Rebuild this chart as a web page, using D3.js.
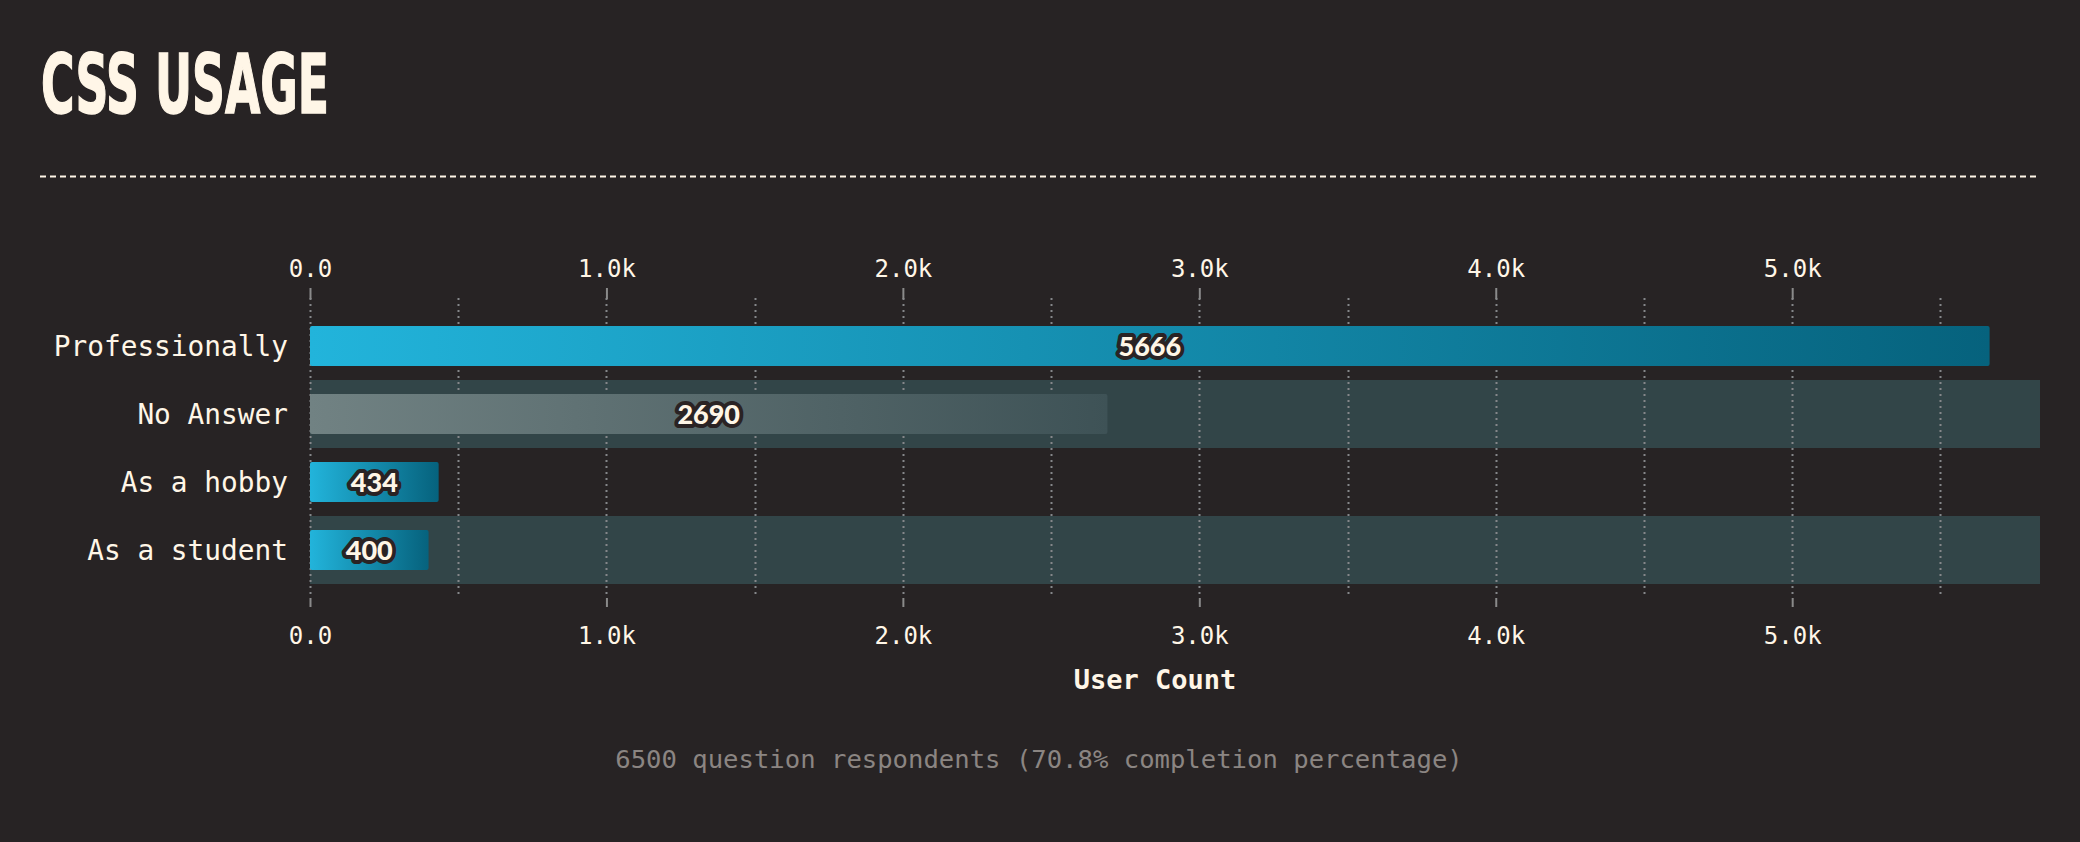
<!DOCTYPE html>
<html><head><meta charset="utf-8">
<script src="https://cdn.jsdelivr.net/npm/d3@7"></script>
<style>
html,body{margin:0;padding:0;background:#272324;}
svg{display:block;}
</style></head>
<body>
<svg id="chart" width="2080" height="842"></svg>
<script>
const categories = ["Professionally", "No Answer", "As a hobby", "As a student"];
const values = [5666, 2690, 434, 400];
const noAnswerCategory = "No Answer";
const tickValues = [0, 1000, 2000, 3000, 4000, 5000];
const gridValues = [0, 500, 1000, 1500, 2000, 2500, 3000, 3500, 4000, 4500, 5000, 5500];
const titleText = "CSS USAGE";
const axisTitle = "User Count";
const footerText = "6500 question respondents (70.8% completion percentage)";

const cream = "#fff6e7";
const svg = d3.select("#chart");
svg.append("rect").attr("width", 2080).attr("height", 842).attr("fill", "#272324");

const defs = svg.append("defs");
const g1 = defs.append("linearGradient").attr("id", "gTeal").attr("x1", 0).attr("x2", 1).attr("y1", 0).attr("y2", 0);
g1.append("stop").attr("offset", "0%").attr("stop-color", "#22b4db");
g1.append("stop").attr("offset", "100%").attr("stop-color", "#06627d");
const g2 = defs.append("linearGradient").attr("id", "gGrey").attr("x1", 0).attr("x2", 1).attr("y1", 0).attr("y2", 0);
g2.append("stop").attr("offset", "0%").attr("stop-color", "#718283");
g2.append("stop").attr("offset", "100%").attr("stop-color", "#3e5256");

// Title
svg.append("text").attr("x", 41).attr("y", 113)
  .attr("font-family", "'DejaVu Sans Condensed', 'DejaVu Sans'").attr("font-weight", 700)
  .attr("font-size", 82).attr("fill", cream)
  .attr("stroke", cream).attr("stroke-width", 1.5)
  .attr("textLength", 288).attr("lengthAdjust", "spacingAndGlyphs")
  .text(titleText);

svg.append("line").attr("x1", 40).attr("x2", 2040).attr("y1", 176.5).attr("y2", 176.5)
  .attr("stroke", cream).attr("stroke-width", 2).attr("stroke-dasharray", "6,4");

const x = d3.scaleLinear().domain([0, d3.max(values) * 1.03]).range([310, 2040]);
const y = d3.scaleBand().domain(categories).range([312, 584]).padding(0);
const barInset = y.bandwidth() * 14 / 68;

// alternating bands
svg.append("g").selectAll("rect").data(categories.filter((d, i) => i % 2 === 1)).join("rect")
  .attr("x", x(0)).attr("width", x.range()[1] - x(0))
  .attr("y", d => y(d)).attr("height", y.bandwidth())
  .attr("fill", "#324548");

// gridlines
svg.append("g").selectAll("line").data(gridValues).join("line")
  .attr("x1", d => Math.round(x(d)) + 0.5).attr("x2", d => Math.round(x(d)) + 0.5)
  .attr("y1", 298).attr("y2", 594)
  .attr("stroke", "#85878a").attr("stroke-width", 2).attr("stroke-dasharray", "2,4");

const fmt = d => d === 0 ? "0.0" : (d / 1000).toFixed(1) + "k";
const tickFont = "'DejaVu Sans Mono', 'Liberation Mono', monospace";

const topAxis = d3.axisTop(x).tickValues(tickValues).tickFormat(fmt).tickSize(11).tickPadding(11);
const gTop = svg.append("g").attr("transform", "translate(0,299)").call(topAxis);
const botAxis = d3.axisBottom(x).tickValues(tickValues).tickFormat(fmt).tickSize(9).tickPadding(20);
const gBot = svg.append("g").attr("transform", "translate(0,598)").call(botAxis);
[gTop, gBot].forEach(g => {
  g.select(".domain").remove();
  g.selectAll(".tick line").attr("stroke", "#8a8a8a").attr("stroke-width", 2);
  g.selectAll(".tick text").attr("fill", cream).attr("font-family", tickFont).attr("font-size", 24);
});

// bars
svg.append("g").selectAll("rect").data(categories).join("rect")
  .attr("x", x(0)).attr("y", d => y(d) + barInset)
  .attr("width", (d, i) => x(values[i]) - x(0))
  .attr("height", y.bandwidth() - 2 * barInset)
  .attr("rx", 2)
  .attr("fill", d => d === noAnswerCategory ? "url(#gGrey)" : "url(#gTeal)");

// category labels
svg.append("g").selectAll("text").data(categories).join("text")
  .attr("x", 288).attr("y", d => y(d) + y.bandwidth() / 2)
  .attr("dy", "0.35em").attr("text-anchor", "end")
  .attr("font-family", tickFont).attr("font-size", 27.8).attr("fill", cream)
  .text(d => d);

// value labels
svg.append("g").selectAll("text").data(categories).join("text")
  .attr("x", (d, i) => (x(0) + x(values[i])) / 2)
  .attr("y", d => y(d) + y.bandwidth() / 2)
  .attr("dy", "0.36em").attr("text-anchor", "middle")
  .attr("font-family", "Lato, 'Open Sans', sans-serif").attr("font-weight", 900)
  .attr("font-size", 27).attr("fill", cream)
  .attr("stroke", "#2a2324").attr("stroke-width", 8).attr("stroke-linejoin", "round")
  .attr("paint-order", "stroke")
  .text((d, i) => values[i]);

// axis title
svg.append("text").attr("x", 1155).attr("y", 680).attr("dy", "0.35em")
  .attr("text-anchor", "middle").attr("font-family", tickFont).attr("font-weight", 700)
  .attr("font-size", 27).attr("fill", cream).text(axisTitle);

// footer
svg.append("text").attr("x", 1039).attr("y", 759).attr("dy", "0.35em")
  .attr("text-anchor", "middle").attr("font-family", tickFont)
  .attr("font-size", 25.6).attr("fill", "#8b8582").text(footerText);
</script>
</body></html>
